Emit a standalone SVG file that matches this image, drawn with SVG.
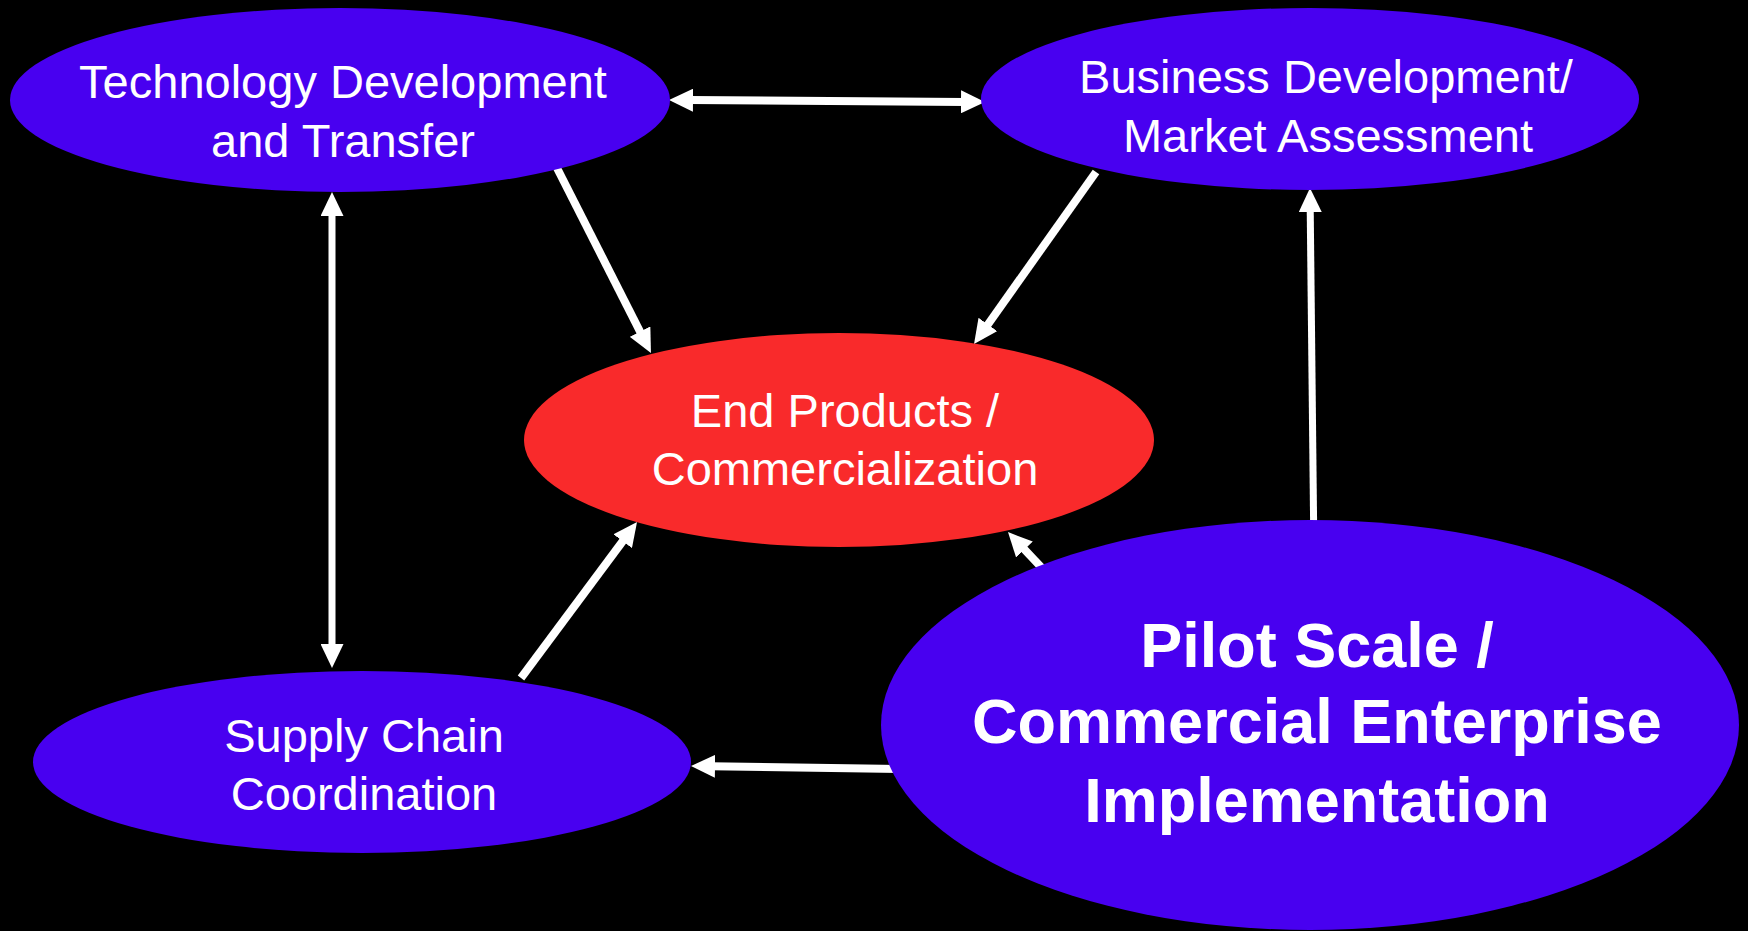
<svg xmlns="http://www.w3.org/2000/svg" width="1748" height="931" viewBox="0 0 1748 931">
<style>
.node{fill:#4800F0}
.red{fill:#F92A2B}
.t{font-family:"Liberation Sans",Arial,sans-serif;font-size:47px;fill:#fff;text-anchor:middle}
.tb{font-family:"Liberation Sans",Arial,sans-serif;font-size:63px;font-weight:bold;fill:#fff;text-anchor:middle}
.c{stroke:#fff;fill:none;stroke-width:8}
.cv{stroke:#fff;fill:none;stroke-width:7}
</style>
<defs>
<marker id="ah" markerUnits="userSpaceOnUse" markerWidth="24" markerHeight="23" refX="4" refY="11.5" orient="auto-start-reverse" viewBox="0 0 24 23">
<path d="M0,0 L24,11.5 L0,23 z" fill="#fff"/>
</marker>
</defs>
<rect width="1748" height="931" fill="#000"/>
<g id="connectors">
<line class="c" x1="689" y1="100.1" x2="965" y2="101.9" marker-start="url(#ah)" marker-end="url(#ah)"/>
<line class="cv" x1="332" y1="212" x2="332" y2="648" marker-start="url(#ah)" marker-end="url(#ah)"/>
<line class="c" x1="557" y1="168" x2="641.9" y2="335.2" marker-end="url(#ah)"/>
<line class="c" x1="1096" y1="172" x2="985.6" y2="327.7" marker-end="url(#ah)"/>
<line class="c" x1="521" y1="678" x2="625.1" y2="538" marker-end="url(#ah)"/>
<line class="c" x1="1074" y1="602" x2="1021.7" y2="546.6" marker-end="url(#ah)"/>
<line class="cv" x1="1314" y1="560" x2="1310.2" y2="208" marker-end="url(#ah)"/>
<line class="c" x1="900" y1="769" x2="711" y2="766.3" marker-end="url(#ah)"/>
</g>
<g id="tech">
<ellipse class="node" cx="340" cy="100" rx="330" ry="92"/>
<text class="t" x="343" y="98">Technology Development</text>
<text class="t" x="343" y="157">and Transfer</text>
</g>
<g id="business">
<ellipse class="node" cx="1310" cy="99" rx="329" ry="91"/>
<text class="t" x="1326" y="93">Business Development/</text>
<text class="t" x="1328" y="152">Market Assessment</text>
</g>
<g id="endproducts">
<ellipse class="red" cx="839" cy="440" rx="315" ry="107"/>
<text class="t" x="845" y="427">End Products /</text>
<text class="t" x="845" y="485">Commercialization</text>
</g>
<g id="supply">
<ellipse class="node" cx="362" cy="762" rx="329" ry="91"/>
<text class="t" x="364" y="752">Supply Chain</text>
<text class="t" x="364" y="810">Coordination</text>
</g>
<g id="pilot">
<ellipse class="node" cx="1310" cy="725" rx="429" ry="205"/>
<text class="tb" x="1317" y="667">Pilot Scale /</text>
<text class="tb" x="1317" y="743">Commercial Enterprise</text>
<text class="tb" x="1317" y="822">Implementation</text>
</g>
</svg>
